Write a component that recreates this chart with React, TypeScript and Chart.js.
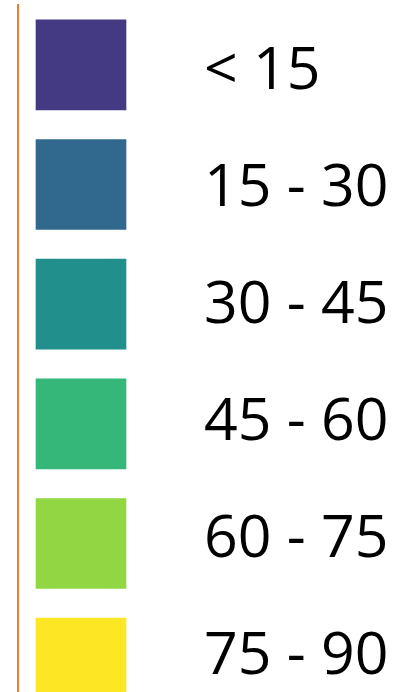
import { useEffect, useRef } from 'react';
import { Chart, registerables } from 'chart.js';

Chart.register(...registerables);

// Legend classes (top to bottom)
const CLASS_LABELS = ['< 15', '15 - 30', '30 - 45', '45 - 60', '60 - 75', '75 - 90'];
const CLASS_COLORS = ['#443983', '#31688E', '#21908C', '#35B779', '#90D743', '#FDE725'];
// Swatch extent along the (hidden) horizontal legend axis
const SWATCH_START = [17, 17, 17, 17, 17, 17];
const SWATCH_END = [109, 109, 109, 109, 109, 109];
// Row positions of the text labels on the label axis
const LABEL_ROWS = [0, 1, 2, 3, 4, 5];

export default function App() {
  const canvasRef = useRef<HTMLCanvasElement | null>(null);

  useEffect(() => {
    document.body.style.margin = '0';
    document.body.style.overflow = 'hidden';
    document.body.style.background = '#ffffff';
    const canvas = canvasRef.current;
    if (!canvas) return;

    const chart = new Chart(canvas, {
      type: 'bar',
      data: {
        labels: CLASS_LABELS,
        datasets: [
          {
            data: CLASS_LABELS.map((_, i) => [SWATCH_START[i], SWATCH_END[i]]) as any,
            backgroundColor: CLASS_COLORS,
            borderColor: 'rgba(255,255,255,0.35)',
            borderWidth: 1,
            borderSkipped: false,
            barThickness: 92,
            xAxisID: 'x',
            yAxisID: 'y',
          },
        ],
      },
      options: {
        indexAxis: 'y',
        animation: false,
        responsive: true,
        maintainAspectRatio: false,
        events: [],
        layout: { padding: { left: 18, right: 24, top: 5, bottom: 5 } },
        plugins: {
          legend: { display: false },
          tooltip: { enabled: false },
        },
        scales: {
          x: {
            type: 'linear',
            display: false,
            min: 0,
            max: 180,
          },
          y: {
            type: 'category',
            position: 'left',
            grid: { display: false, drawTicks: false },
            ticks: { display: false },
            border: { display: true, color: '#ED7D31', width: 2 },
            afterFit: (scale: any) => {
              scale.width = 0;
              scale.paddingTop = 0;
              scale.paddingBottom = 0;
              scale.paddingLeft = 0;
              scale.paddingRight = 0;
            },
          },
          y2: {
            type: 'linear',
            position: 'right',
            reverse: true,
            offset: false,
            bounds: 'data',
            min: -0.573,
            max: 5.564,
            grid: { display: false, drawTicks: false, offset: false },
            border: { display: false },
            afterBuildTicks: (scale: any) => {
              scale.ticks = LABEL_ROWS.map((v) => ({ value: v }));
            },
            afterFit: (scale: any) => {
              scale.width = 190;
              scale.paddingTop = 0;
              scale.paddingBottom = 0;
              scale.paddingLeft = 0;
              scale.paddingRight = 0;
            },
            ticks: {
              autoSkip: false,
              padding: 6,
              color: '#000000',
              font: { family: '"Open Sans", sans-serif', size: 59, weight: 'normal' },
              callback: (value: any) => CLASS_LABELS[LABEL_ROWS.indexOf(Number(value))] ?? '',
            },
          },
        },
      } as any,
    });

    return () => chart.destroy();
  }, []);

  return (
    <div style={{ width: 412, height: 692, overflow: 'hidden', background: '#ffffff' }}>
      <div style={{ position: 'relative', width: 412, height: 728 }}>
        <canvas ref={canvasRef} />
      </div>
    </div>
  );
}
